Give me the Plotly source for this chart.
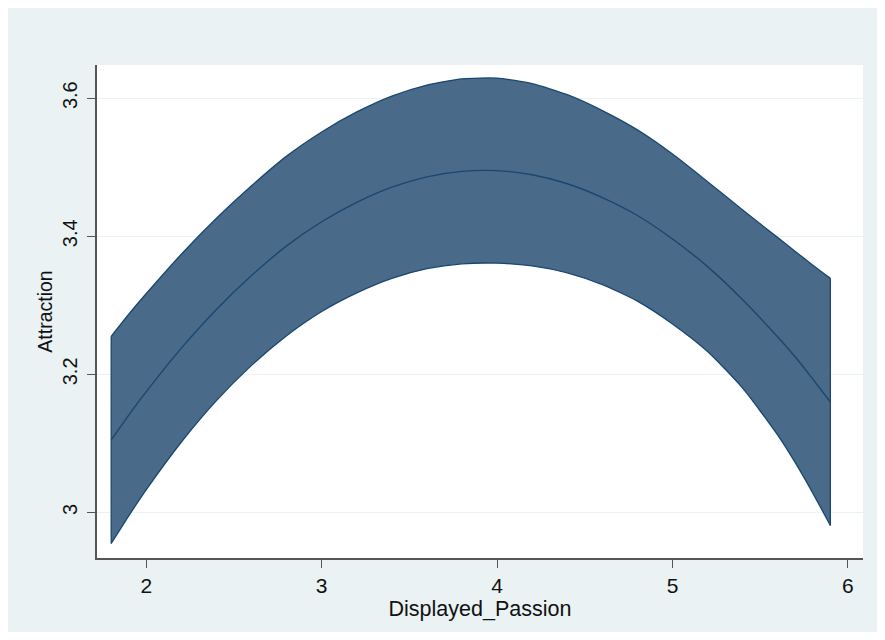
import plotly.graph_objects as go

# Values
passion = [1.8, 1.9, 2.0, 2.2, 2.4, 2.6, 2.8, 3.0, 3.2, 3.4, 3.6, 3.8, 4.0,
           4.2, 4.4, 4.6, 4.8, 5.0, 5.2, 5.4, 5.6, 5.7, 5.8, 5.9]
fit = [3.105, 3.141, 3.175, 3.238, 3.294, 3.343, 3.386, 3.421, 3.449, 3.471,
       3.486, 3.494, 3.495, 3.489, 3.476, 3.456, 3.430, 3.396, 3.356, 3.308,
       3.254, 3.225, 3.193, 3.160]
upper = [3.255, 3.287, 3.317, 3.374, 3.426, 3.473, 3.516, 3.551, 3.580, 3.603,
         3.619, 3.628, 3.629, 3.621, 3.605, 3.582, 3.554, 3.519, 3.479, 3.438,
         3.398, 3.378, 3.358, 3.339]
lower = [2.955, 2.995, 3.033, 3.102, 3.162, 3.213, 3.256, 3.291, 3.318, 3.339,
         3.353, 3.360, 3.361, 3.357, 3.347, 3.330, 3.306, 3.273, 3.233, 3.180,
         3.112, 3.072, 3.028, 2.981]

x_ticks = [2, 3, 4, 5, 6]
y_ticks = [3.0, 3.2, 3.4, 3.6]
y_tick_labels = ["3", "3.2", "3.4", "3.6"]

NAVY = "#1A476F"
BAND = "#4A6A8A"
BG = "#EAF2F3"

fig = go.Figure()
fig.add_trace(go.Scatter(x=passion, y=lower, mode="lines",
                         line=dict(color=NAVY, width=1.3, shape="spline", smoothing=0.6),
                         hoverinfo="skip"))
fig.add_trace(go.Scatter(x=passion, y=upper, mode="lines", fill="tonexty",
                         fillcolor=BAND,
                         line=dict(color=NAVY, width=1.3, shape="spline", smoothing=0.6),
                         hoverinfo="skip"))
# vertical end edges of the band
fig.add_trace(go.Scatter(x=[passion[0], passion[0]], y=[lower[0], upper[0]], mode="lines",
                         line=dict(color=NAVY, width=1.3), hoverinfo="skip"))
fig.add_trace(go.Scatter(x=[passion[-1], passion[-1]], y=[lower[-1], upper[-1]], mode="lines",
                         line=dict(color=NAVY, width=1.3), hoverinfo="skip"))
fig.add_trace(go.Scatter(x=passion, y=fit, mode="lines",
                         line=dict(color=NAVY, width=1.4, shape="spline", smoothing=0.6),
                         hoverinfo="skip"))

fig.update_layout(
    width=872, height=624,
    margin=dict(l=89, r=17, t=57, b=74),
    paper_bgcolor=BG, plot_bgcolor="white",
    showlegend=False,
    font=dict(family="Liberation Sans, Arial, sans-serif", color="#111111", size=18),
)
fig.update_xaxes(
    range=[1.719, 6.086], tickvals=x_ticks, ticks="outside", ticklen=8,
    tickcolor="#555555", tickwidth=1.3, showline=True, linecolor="#555555",
    linewidth=1.6, showgrid=False, zeroline=False,
    tickfont=dict(size=21),
    title=dict(text="Displayed_Passion", font=dict(size=21.5), standoff=3),
)
fig.update_yaxes(
    range=[2.934, 3.648], tickvals=y_ticks, ticktext=y_tick_labels,
    tickangle=-90, ticks="outside", ticklen=8, tickcolor="#555555", tickwidth=1.3,
    showline=True, linecolor="#555555", linewidth=1.6,
    showgrid=True, gridcolor=BG, gridwidth=1.2, zeroline=False,
    tickfont=dict(size=20), ticklabelstandoff=2,
    title=dict(text="Attraction", font=dict(size=19.5), standoff=1),
)

fig.write_html("out.html")
